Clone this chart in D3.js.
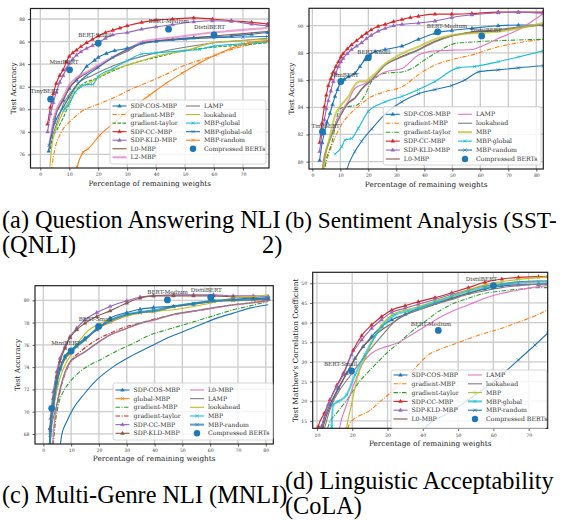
<!DOCTYPE html>
<html>
<head>
<meta charset="utf-8">
<script src="https://cdn.jsdelivr.net/npm/d3@7"></script>
<style>
  body { margin: 0; background: #fff; }
  svg { display: block; }
  .tick text { font-family: "DejaVu Serif", serif; font-size: 4.6px; fill: #333; }
  .tick line { stroke: #333; stroke-width: 0.8; }
  .lab { font-family: "DejaVu Serif", serif; font-size: 7.3px; fill: #222; }
  .leg { font-family: "DejaVu Serif", serif; font-size: 6.2px; fill: #333; }
  .ann { font-family: "DejaVu Serif", serif; font-size: 5.6px; fill: #333; }
  .cap { font-family: "Liberation Serif", "Times New Roman", Times, serif; fill: #000; }
</style>
</head>
<body>
<svg id="fig" width="563" height="521"></svg>
<script>
// ---------- (a) QNLI ----------
var qnliNames = ["SDP-COS-MBP", "gradient-MBP", "gradient-taylor", "SDP-CC-MBP", "SDP-KLD-MBP", "L0-MBP", "L2-MBP",
                 "LAMP", "lookahead", "MBP-global", "MBP-global-old", "MBP-random"];
var qnliXTicks = [0, 10, 20, 30, 40, 50, 60, 70];
var qnliYTicks = [76, 78, 80, 82, 84, 86, 88];
var qnliSdpCos = [[2.9,76.3],[5,79.2],[7.9,80.8],[10,81.85],[12.5,82.6],[16,83.8],[18.8,84.35],[20,84.6],[22.8,84.95],[25.7,85.2],[30,85.4],[35.4,85.9],[40,86.05],[45.7,86.2],[53,86.35],[59.5,86.45],[66,86.5],[73,86.65],[78.5,86.8]];
var qnliGradMbp = [[3.8,74.5],[4.5,75.8],[7.3,78],[10.2,78.9],[14.2,79.8],[20.5,80.5],[26,81.1],[32,81.85],[37.7,82.45],[43.4,83.1],[49,83.8],[55,84.35],[60.6,84.8],[66,85.3],[72,85.7],[78.5,86.0]];
var qnliGradTaylor = [[3.5,76.5],[4,77.3],[6,78.3],[8,79.3],[10,80.5],[12,81.5],[15,82.3],[18,82.6],[20,82.8],[25,83.4],[30,83.9],[35,84.3],[40,84.6],[50,85.2],[60,85.5],[70,85.7],[78.5,85.9]];
var qnliSdpCc = [[2.5,78.7],[3.5,80.2],[4.5,81.4],[5.5,82.3],[6.7,83.0],[7.9,83.5],[9,84.2],[10,84.7],[11.2,85.0],[12.5,85.25],[14,85.55],[16,85.9],[18,86.2],[20,86.5],[22.5,86.8],[25,87.0],[27.5,87.2],[30,87.4],[35,87.7],[40,87.9],[45.7,88.0],[53,88.1],[59.5,88.0],[66,87.85],[73,87.7],[78.5,87.55]];
var qnliSdpKld = [[2.5,78.0],[3.5,79.6],[4.5,80.6],[5.5,81.5],[6.7,82.4],[7.9,83.0],[9,83.6],[10,84.05],[11.2,84.45],[12.5,84.8],[14,85.1],[16,85.4],[18,85.65],[20,85.9],[22.5,86.3],[25,86.6],[30,86.8],[35,87.1],[40,87.3],[45.7,87.5],[53,87.75],[59.5,87.85],[66,87.8],[73,87.55],[78.5,87.4]];
var qnliL0 = [[3,76.5],[5,79.3],[8,80.9],[10,81.9],[12.5,82.6],[16,83.2],[20,83.8],[25,84.55],[30,85.15],[35,85.85],[40,86.05],[50,86.25],[60,86.5],[70,86.7],[78.5,86.9]];
var qnliL2 = [[3,76.7],[5,79.5],[7.9,81.1],[10,82.15],[12.5,82.8],[16,83.3],[20,83.9],[25,84.65],[30,85.25],[35.4,86.0],[40,86.2],[45.7,86.35],[53,86.6],[59.5,86.8],[66,86.95],[73,87.1],[78.5,87.2]];
var qnliLamp = [[4,77.5],[6,79.0],[8,80.5],[10,81.3],[14,82.5],[18,83.0],[22,83.5],[30,84.3],[40,85.0],[50,85.5],[60,85.9],[70,86.1],[78.5,86.3]];
var qnliLookahead = [[3.3,74.9],[4,76.8],[5,77.9],[7,79.3],[10,80.8],[12,81.8],[14,82.1],[16,82.2],[20,82.8],[25,83.5],[30,83.9],[35,84.3],[40,84.7],[50,85.2],[60,85.9],[70,86.1],[78.5,86.2]];
var qnliMbpGlobal = [[8,79.9],[10,80.5],[12,81.5],[14,82.0],[16,82.2],[18,82.2],[20,82.9],[25,83.6],[30,84.3],[35,84.9],[40,85.0],[50,85.2],[55,85.3],[60,85.6],[70,85.8],[78.5,86.0]];
var qnliMbpGlobalOld = [[3,76.8],[5,78.8],[8,80.2],[10,81.1],[13,82.3],[16,83.0],[20,83.7],[25,84.6],[30,85.3],[35,85.8],[40,86.0],[50,86.2],[60,86.35],[70,86.4],[78.5,86.45]];
var qnliMbpRandom = [[12.3,74.5],[12.7,74.9],[14.8,76.2],[16.5,76.5],[20.5,77.7],[26,78.9],[32,80.2],[37.7,81.25],[43.4,82.3],[49,83.2],[55,84.1],[60.6,84.8],[66,85.4],[72,85.9],[78.5,86.1]];
var qnliBertNames = ["TinyBERT", "MiniBERT", "BERT-Small", "BERT-Medium", "DistilBERT"];
var qnliBertX = [3.55, 10.1, 20, 44.3, 60];
var qnliBertY = [80.9, 83.5, 85.85, 87.1, 86.6];

// ---------- (b) SST-2 ----------
var sstNames = ["SDP-COS-MBP", "gradient-MBP", "gradient-taylor", "SDP-CC-MBP", "SDP-KLD-MBP", "L0-MBP",
                "LAMP", "lookahead", "MBP", "MBP-global", "MBP-random"];
var sstXTicks = [0, 10, 20, 30, 40, 50, 60, 70, 80];
var sstYTicks = [80, 82, 84, 86, 88, 90];
var sstSdpCos = [[2.6,80.1],[3.5,81.4],[4.3,82.1],[5.2,82.9],[6.3,83.55],[7.2,84.2],[8.1,84.8],[9,85.3],[9.9,85.75],[11.4,86.05],[12.9,86.25],[15.2,86.5],[17,87.0],[18.8,87.5],[20.6,87.85],[22.4,88.1],[26,88.25],[32,88.5],[37.9,89.0],[43.8,89.45],[49.8,89.65],[57,89.8],[66.4,90.0],[73.6,90.05],[82.5,90.05]];
var sstGradMbp = [[3.9,79.0],[4.3,79.4],[6.8,81.1],[9.3,82.3],[12.9,83.4],[16.4,84.05],[20,84.65],[26,85.15],[32,85.5],[37.9,86.4],[43.8,87.1],[49.8,87.5],[57,87.85],[66.4,88.45],[73.6,88.75],[82.5,89.0]];
var sstGradTaylor = [[4.2,79.0],[4.5,79.6],[6.9,81.35],[9.9,83.9],[12.9,84.05],[15.8,84.15],[18.8,84.9],[21.2,85.9],[26,86.5],[32,86.6],[35.5,86.85],[40.2,87.5],[45,88.1],[51,88.7],[57,88.8],[66.4,88.9],[73.6,88.95],[82.5,89.0]];
var sstSdpCc = [[2.6,81.4],[3.4,82.8],[4.3,84.05],[5,84.9],[5.7,85.6],[6.6,86.1],[7.5,86.6],[8.4,87.0],[9.3,87.35],[10.2,87.7],[11,87.95],[12.5,88.3],[14,88.6],[15.8,88.9],[17.6,89.2],[19.3,89.45],[21,89.7],[23.5,89.95],[26,90.1],[29,90.3],[32,90.45],[35,90.6],[37.9,90.7],[43.8,90.85],[49.8,90.85],[57,90.9],[66.4,91.0],[73.6,91.0],[82.5,91.0]];
var sstSdpKld = [[2.6,80.75],[3.4,82.0],[4.3,83.1],[5,83.9],[5.7,84.5],[6.6,85.2],[7.5,85.9],[8.4,86.5],[9.3,87.0],[10.2,87.35],[11,87.6],[12.5,87.95],[14,88.25],[15.8,88.5],[17.6,88.75],[19.3,89.05],[21,89.3],[23.5,89.6],[26,89.8],[29,90.0],[32,90.1],[37.9,90.2],[43.8,90.35],[49.8,90.6],[57,90.8],[66.4,90.95],[73.6,91.0],[82.5,90.9]];
var sstL0 = [[3.6,79.0],[3.9,79.6],[6.3,81.7],[9.3,83.1],[12.9,84.35],[15.2,84.7],[17.6,85.35],[21.2,86.05],[26,87.1],[32,87.75],[37.9,88.25],[43.8,88.85],[49.8,89.25],[57,89.5],[66.4,89.65],[73.6,89.85],[82.5,90.05]];
var sstLamp = [[3.6,79.3],[3.9,80.1],[6.3,81.6],[9.3,83.3],[12.9,84.5],[15.2,85.4],[18.8,85.75],[21.2,86.05],[26,86.6],[32,86.85],[37.9,87.85],[43.8,88.15],[49.8,88.2],[57,88.25],[61.7,88.6],[66.4,89.05],[73.6,89.7],[82.5,90.9]];
var sstLookahead = [[3.6,79.0],[3.9,79.75],[6.3,81.6],[9.3,83.06],[12.9,84.3],[15.2,84.65],[17.6,85.3],[21.2,86.0],[26,87.1],[32,87.7],[37.9,88.2],[43.8,88.8],[49.8,89.25],[57,89.55],[66.4,89.7],[73.6,89.9],[82.5,90.05]];
var sstMbp = [[3.7,79.0],[3.9,79.4],[6.3,81.85],[8.1,83.4],[9.9,84.05],[12.9,84.8],[15.2,85.65],[17,85.9],[18.8,85.9],[21.2,86.25],[26,87.2],[32,87.95],[37.9,88.45],[43.8,89.0],[49.8,89.3],[57,89.45],[66.4,89.55],[73.6,89.8],[82.5,90.2]];
var sstMbpGlobal = [[8.1,80.55],[10.5,81.1],[11.7,81.6],[14,81.7],[16.4,82.45],[20,83.7],[26,84.4],[32,84.8],[37.9,85.3],[43.8,85.9],[52,86.9],[58,87.0],[66.4,87.35],[73.6,87.7],[82.5,88.15]];
var sstMbpRandom = [[11.8,79.0],[12.3,79.4],[15.2,80.75],[17.6,81.5],[21.2,82.4],[26,83.5],[32,84.4],[37.9,85.0],[43.8,85.3],[49.8,85.6],[54.5,86.0],[59.3,86.6],[66.4,86.75],[73.6,86.9],[82.5,87.05]];
var sstBertNames = ["TinyBERT", "MiniBERT", "BERT-Small", "BERT-Medium", "DistilBERT"];
var sstBertX = [3.6, 10.2, 20, 44.8, 60.5];
var sstBertY = [82.2, 85.9, 87.65, 89.55, 89.25];

// ---------- (c) MNLI ----------
var mnliNames = ["SDP-COS-MBP", "global-MBP", "gradient-MBP", "gradient-taylor", "SDP-CC-MBP", "SDP-KLD-MBP",
                 "L0-MBP", "LAMP", "lookahead", "MBP", "MBP-random"];
var mnliXTicks = [0, 10, 20, 30, 40, 50, 60, 70, 80];
var mnliYTicks = [68, 70, 72, 74, 76, 78, 80];
var mnliSdpCos = [[2.4,67.0],[2.6,68.35],[3.6,70.3],[4.8,72.7],[6,73.9],[7.8,75.0],[9.6,75.45],[12,76.0],[15,76.6],[19.2,77.35],[24,78.4],[30,78.9],[34.8,79.2],[39.6,79.35],[46.8,79.45],[54,79.65],[61.2,79.9],[68.3,80.05],[75.5,80.2],[80.9,80.2]];
var mnliGlobalMbp = [[2.5,67.0],[2.6,67.9],[4.8,72.4],[7.8,74.7],[9.6,75.2],[12,75.8],[15,76.4],[19.2,77.4],[24,78.0],[30,78.6],[34.8,78.85],[39.6,78.95],[46.8,79.4],[54,79.7],[61.2,79.9],[68.3,79.95],[75.5,80.0],[80.9,80.1]];
var mnliGradMbp = [[3.6,67.0],[4.0,68.2],[5.4,70.6],[7.2,71.8],[9.6,72.7],[13.2,73.6],[16.8,74.2],[20.4,74.65],[26.4,75.45],[32.4,76.15],[38.4,76.9],[44.4,77.35],[50.4,77.8],[56.4,78.25],[62.4,78.7],[68.3,79.15],[74.3,79.5],[80.9,79.9]];
var mnliGradTaylor = [[3.3,67.0],[3.6,67.9],[6,71.8],[8.4,73.75],[10.2,74.65],[12.6,75.25],[15.6,75.85],[19.2,76.45],[24,77.05],[30,77.65],[34.8,77.95],[39.6,78.3],[46.8,78.7],[54,79.0],[61.2,79.3],[68.3,79.6],[75.5,79.8],[80.9,80.0]];
var mnliSdpCc = [[2.2,67.0],[2.4,68.5],[2.6,69.4],[3.6,71.8],[4.8,73.6],[6,74.8],[7.8,75.85],[9.6,76.75],[12,77.5],[15,78.25],[19.2,78.9],[24,79.45],[30,79.95],[34.8,80.3],[39.6,80.4],[46.8,80.5],[54,80.5],[61.2,80.5],[68.3,80.4],[75.5,80.4],[80.9,80.35]];
var mnliSdpKld = [[2.2,67.0],[2.4,68.5],[3.6,71.2],[4.8,73.15],[6,74.5],[7.8,75.7],[9.6,76.65],[12,77.35],[15,77.95],[19.2,78.55],[24,79.05],[30,79.75],[34.8,80.2],[39.6,80.4],[46.8,80.4],[54,80.4],[61.2,80.4],[68.3,80.3],[75.5,80.2],[80.9,80.1]];
var mnliL0 = [[3.4,67.0],[3.6,67.9],[4.8,70.5],[7.8,73.5],[9.6,74.4],[12,74.9],[15,75.35],[19.2,76.1],[24,76.85],[30,77.45],[34.8,77.9],[39.6,78.2],[46.8,78.7],[54,79.0],[61.2,79.3],[68.3,79.55],[75.5,79.75],[80.9,79.95]];
var mnliLamp = [[2.4,67.0],[2.6,67.9],[4.8,70.6],[7.8,73.6],[9.6,74.5],[12,74.95],[15,75.4],[19.2,76.15],[24,76.9],[30,77.5],[34.8,77.95],[39.6,78.25],[46.8,78.75],[54,79.05],[61.2,79.35],[68.3,79.6],[75.5,79.8],[80.9,80.0]];
var mnliLookahead = [[2.5,67.0],[2.6,67.9],[4.8,71.8],[7.8,74.2],[9.6,74.95],[12,76.0],[15,77.0],[19.2,77.8],[24,78.25],[30,78.6],[34.8,78.9],[39.6,79.0],[46.8,79.15],[54,79.45],[61.2,79.8],[68.3,80.2],[75.5,80.35],[80.9,80.5]];
var mnliMbp = [[2.3,67.0],[2.4,67.9],[4.8,72.55],[7.8,74.8],[9.6,75.3],[12,75.85],[15,76.45],[19.2,77.5],[24,78.1],[30,78.7],[34.8,78.9],[39.6,79.0],[46.8,79.45],[54,79.75],[61.2,79.95],[68.3,80.0],[75.5,80.05],[80.9,80.2]];
var mnliMbpRandom = [[2.4,67.0],[2.6,68.3],[3.6,70.5],[4.8,72.6],[6,73.8],[7.8,74.9],[9.6,75.35],[12,75.9],[15,76.5],[19.2,77.4],[24,78.2],[30,78.75],[34.8,78.95],[39.6,79.1],[46.8,79.45],[54,79.7],[61.2,79.95],[68.3,80.05],[75.5,80.1],[80.9,80.15]];
// unlabelled baseline curve at the bottom of (c)
var mnliBaseline = [[6.0,66.8],[6.6,67.9],[8.4,69.1],[10.8,70.3],[14.4,71.5],[19.2,72.85],[25.2,74.05],[32.4,75.1],[38.4,75.85],[44.4,76.6],[50.4,77.2],[56.4,77.8],[62.4,78.4],[68.3,78.85],[74.3,79.3],[80.9,79.6]];
var mnliBertNames = ["", "MiniBERT", "BERT-Small", "BERT-Medium", "DistilBERT"];
var mnliBertX = [3.0, 10, 19.9, 44.6, 60.2];
var mnliBertY = [70.3, 75.45, 77.65, 80.03, 80.25];

// ---------- (d) CoLA ----------
var colaNames = ["SDP-COS-MBP", "gradient-MBP", "gradient-taylor", "SDP-CC-MBP", "SDP-KLD-MBP", "L0-MBP",
                 "LAMP", "lookahead", "MBP", "MBP-global", "MBP-random"];
var colaXTicks = [10, 20, 30, 40, 50, 60, 70];
var colaYTicks = [15, 20, 25, 30, 35, 40, 45, 50];
var colaSdpCos = [[11,11],[11.5,13.6],[13.7,19.1],[16,23.3],[18.4,27.1],[20.8,30.9],[23.1,33.9],[25.5,36.45],[28.3,39.0],[31.2,40.7],[35,42.1],[38.7,43.65],[43.5,44.9],[48.2,46.2],[52.9,47.45],[57.6,48.55],[62.4,49.3],[67.1,49.6],[72.8,49.75],[75.4,49.9]];
var colaGradMbp = [[18.8,13],[19.2,14.2],[21.7,16.1],[24.6,17.4],[27.4,19.5],[31.2,22.45],[35,25.85],[38.7,29.25],[41.6,31.8],[44.4,33.05],[48.2,34.3],[52.9,35.85],[57.6,37.3],[62.4,38.55],[67.1,40.1],[72.8,42.1],[75.4,43.3]];
var colaGradTaylor = [[12.5,11],[13.2,13.6],[16,17.4],[18.9,20.8],[21.7,24.6],[24.6,27.5],[27.4,30.1],[30.2,32.6],[33.1,34.75],[36.8,37.7],[40.6,40.25],[44.4,42.8],[48.2,44.65],[52.9,46.2],[57.6,47.45],[62.4,48.05],[67.1,48.5],[72.8,48.9],[75.4,48.9]];
var colaSdpCc = [[9.8,11],[10.4,13.6],[12.1,16.95],[13.7,20.35],[15.6,24.0],[17.5,27.1],[20.3,33.0],[22.7,36.7],[25.5,39.4],[28.3,41.5],[31.2,43.2],[35,44.3],[38.7,45.3],[43.5,46.35],[48.2,47.6],[52.9,48.9],[57.6,50.25],[62.4,51.1],[67.1,51.5],[72.8,51.7],[75.4,51.7]];
var colaSdpKld = [[10.7,11],[11.3,13.6],[13.2,19.1],[15.6,23.7],[17.5,26.7],[19.8,31.8],[22.7,35.6],[25.5,38.55],[28.3,40.7],[31.2,42.6],[35,43.65],[38.7,44.65],[43.5,45.9],[48.2,47.2],[52.9,48.3],[57.6,49.3],[62.4,49.75],[67.1,49.75],[72.8,49.75],[75.4,50.0]];
var colaL0 = [[11.2,11],[11.8,13.6],[14.2,19.5],[17,24.6],[19.8,29.25],[22.7,33.5],[25.5,36.0],[28.3,38.1],[31.2,39.8],[35,41.95],[38.7,43.2],[43.5,44.65],[48.2,46.2],[52.9,47.45],[57.6,48.7],[62.4,49.75],[67.1,50.4],[72.8,50.6],[75.4,50.6]];
var colaLamp = [[16,11],[16.5,13.6],[18.4,19.1],[20.8,25.0],[22.7,29.25],[25.5,32.2],[28.3,33.5],[31.2,34.3],[34,35.35],[36.8,36.9],[40.6,39.0],[44.4,41.1],[48.2,42.8],[52.9,44.5],[57.6,46.2],[62.4,47.45],[67.1,48.3],[72.8,49.15],[75.4,49.4]];
var colaLookahead = [[11.6,11],[12.3,13.6],[14.2,19.1],[16.5,22.9],[18.9,25.85],[21.7,29.25],[24.6,32.6],[27.4,35.6],[30.2,38.55],[33.1,41.1],[36.8,42.55],[40.6,43.8],[44.4,44.9],[48.2,45.9],[52.9,47.2],[57.6,48.1],[62.4,48.9],[67.1,49.4],[72.8,49.75],[75.4,49.75]];
var colaMbp = [[18.1,11],[18.4,13.1],[19.8,19.1],[21.7,26.7],[23.6,30.9],[25.5,34.75],[28.3,39.4],[31.2,41.95],[35,43.2],[38.7,44.05],[43.5,45.5],[48.2,46.85],[52.9,48.3],[57.6,49.6],[62.4,50.4],[67.1,51.0],[72.8,51.45],[75.4,51.7]];
var colaMbpGlobal = [[14.1,11],[14.2,13.6],[14.6,19.1],[16,19.9],[18.4,21.6],[20.8,26.7],[23.6,31.8],[26.4,36.45],[29.3,39.8],[32.1,41.95],[35.9,42.95],[38.7,43.65],[43.5,45.2],[48.2,46.6],[52.9,47.9],[57.6,48.9],[62.4,49.75],[67.1,50.25],[72.8,50.4],[75.4,50.4]];
var colaMbpRandom = [[39,11],[40.6,13.1],[48.2,17.4],[52.9,20.35],[57.6,23.3],[62.4,26.7],[67.1,30.5],[71.8,34.3],[75.4,37.3]];
var colaBertNames = ["BERT-Small", "BERT-Medium", "DistilBERT"];
var colaBertX = [19.8, 44.4, 60];
var colaBertY = [27.7, 38.0, 49.4];

// layout of each subplot (pixels)
var panels = [
  { names: qnliNames, xTicks: qnliXTicks, yTicks: qnliYTicks, thick: ["L2-MBP"],
    series: [qnliSdpCos, qnliGradMbp, qnliGradTaylor, qnliSdpCc, qnliSdpKld, qnliL0, qnliL2, qnliLamp, qnliLookahead, qnliMbpGlobal, qnliMbpGlobalOld, qnliMbpRandom],
    extra: [], bert: [qnliBertNames, qnliBertX, qnliBertY],
    box: [30.5, 8.5, 269, 168], xDom: [-3.4, 79], yDom: [74.8, 88.93],
    yLabel: "Test Accuracy", yLabX: 13.3, xLabY: 185.5, taylorDash: "3.5,1.5",
    leg: { x: 110, y: 100, w: 156, h: 64, c2: 186, r0: 106, dr: 8.55 }, ann: [-20, -6] },
  { names: sstNames, xTicks: sstXTicks, yTicks: sstYTicks, thick: ["MBP"],
    series: [sstSdpCos, sstGradMbp, sstGradTaylor, sstSdpCc, sstSdpKld, sstL0, sstLamp, sstLookahead, sstMbp, sstMbpGlobal, sstMbpRandom],
    extra: [], bert: [sstBertNames, sstBertX, sstBertY],
    box: [309, 8.3, 543.3, 169], xDom: [-1.2, 82.5], yDom: [79.46, 91.28],
    yLabel: "Test Accuracy", yLabX: 291.7, xLabY: 186.5, taylorDash: null,
    leg: { x: 383.3, y: 106.7, w: 157.7, h: 58.3, c2: 458, r0: 114.3, dr: 8.94 }, ann: [-11, -4] },
  { names: mnliNames, xTicks: mnliXTicks, yTicks: mnliYTicks, thick: ["MBP-random"],
    series: [mnliSdpCos, mnliGlobalMbp, mnliGradMbp, mnliGradTaylor, mnliSdpCc, mnliSdpKld, mnliL0, mnliLamp, mnliLookahead, mnliMbp, mnliMbpRandom],
    extra: [mnliBaseline], bert: [mnliBertNames, mnliBertX, mnliBertY],
    box: [35, 285.7, 273.3, 444], xDom: [-3, 82.7], yDom: [67.1, 81.31],
    yLabel: "Test Accuracy", yLabX: 17, xLabY: 460.5, taylorDash: null,
    leg: { x: 113, y: 383, w: 160, h: 57, c2: 190, r0: 390, dr: 8.66 }, ann: [-20, -5.7] },
  { names: colaNames, xTicks: colaXTicks, yTicks: colaYTicks, thick: ["MBP-global"],
    series: [colaSdpCos, colaGradMbp, colaGradTaylor, colaSdpCc, colaSdpKld, colaL0, colaLamp, colaLookahead, colaMbp, colaMbpGlobal, colaMbpRandom],
    extra: [], bert: [colaBertNames, colaBertX, colaBertY],
    box: [312.7, 272.3, 547.7, 428.3], xDom: [8.8, 75.4], yDom: [13.1, 52.8],
    yLabel: "Test Matthew's Correlation Coefficient", yLabX: 295, xLabY: 445.5, taylorDash: null,
    leg: { x: 391, y: 370, w: 155.7, h: 58.3, c2: 468, r0: 375, dr: 8.8 }, ann: [-27.5, -4.7] }
];

var tab10 = d3.schemeCategory10;
var triPath = "M0,-2.1L1.9,1.2L-1.9,1.2Z";
var xPath = "M-1.6,-1.6L1.6,1.6M-1.6,1.6L1.6,-1.6";

function markerFor(name, pi) {
  if (/^SDP/.test(name)) return "tri";
  if (/global|random/.test(name)) return "x";
  if (name === "MBP" && pi >= 2) return "x";
  return null;
}
function dashFor(name, p) {
  if (name === "gradient-MBP") return "4.5,1.5,1,1.5";
  if (name === "gradient-taylor") return p.taylorDash || "4.5,1.5,1,1.5";
  return null;
}
function widthFor(name, p) { return p.thick.indexOf(name) >= 0 ? 2.1 : 1.1; }
function alphaFor(name, p) { return p.thick.indexOf(name) >= 0 ? 0.7 : 1; }

var svg = d3.select("#fig");

panels.forEach(function(p, pi) {
  var b = p.box;
  var x = d3.scaleLinear().domain(p.xDom).range([b[0], b[2]]);
  var y = d3.scaleLinear().domain(p.yDom).range([b[3], b[1]]);
  var g = svg.append("g");

  // grid
  g.selectAll(".gx").data(p.xTicks).enter().append("line")
    .attr("x1", function(d) { return x(d); }).attr("x2", function(d) { return x(d); })
    .attr("y1", b[1]).attr("y2", b[3]).attr("stroke", "#cccccc").attr("stroke-width", 1.3);
  g.selectAll(".gy").data(p.yTicks).enter().append("line")
    .attr("y1", function(d) { return y(d); }).attr("y2", function(d) { return y(d); })
    .attr("x1", b[0]).attr("x2", b[2]).attr("stroke", "#cccccc").attr("stroke-width", 1.3);

  // axes
  var ax = g.append("g").attr("transform", "translate(0," + b[3] + ")")
    .call(d3.axisBottom(x).tickValues(p.xTicks).tickSize(2.5).tickPadding(2.5));
  var ay = g.append("g").attr("transform", "translate(" + b[0] + ",0)")
    .call(d3.axisLeft(y).tickValues(p.yTicks).tickSize(2.5).tickPadding(3));
  ax.select(".domain").remove();
  ay.select(".domain").remove();
  ax.attr("font-family", null).attr("font-size", null);
  ay.attr("font-family", null).attr("font-size", null);

  var clipId = "clip" + pi;
  svg.append("clipPath").attr("id", clipId).append("rect")
    .attr("x", b[0]).attr("y", b[1]).attr("width", b[2] - b[0]).attr("height", b[3] - b[1]);
  var plot = g.append("g").attr("clip-path", "url(#" + clipId + ")");

  var line = d3.line()
    .x(function(d) { return x(d[0]); })
    .y(function(d) { return y(d[1]); })
    .curve(d3.curveMonotoneX);

  p.extra.forEach(function(data) {
    plot.append("path").datum(data).attr("d", line).attr("fill", "none")
      .attr("stroke", tab10[0]).attr("stroke-width", 1.1);
  });

  p.series.forEach(function(data, si) {
    var name = p.names[si], col = tab10[si % 10];
    plot.append("path").datum(data)
      .attr("d", line).attr("fill", "none")
      .attr("stroke", col).attr("stroke-width", widthFor(name, p))
      .attr("stroke-opacity", alphaFor(name, p))
      .attr("stroke-dasharray", dashFor(name, p));
    var mk = markerFor(name, pi);
    if (mk) {
      plot.selectAll(null).data(data).enter().append("path")
        .attr("transform", function(d) { return "translate(" + x(d[0]) + "," + y(d[1]) + ")"; })
        .attr("d", mk === "tri" ? triPath : xPath)
        .attr("fill", mk === "tri" ? col : "none")
        .attr("stroke", col).attr("stroke-width", mk === "tri" ? 0.4 : 0.7);
    }
  });

  // compressed BERT models
  var bn = p.bert[0], bx = p.bert[1], by = p.bert[2];
  var pts = bn.map(function(n, i) { return { name: n, x: bx[i], y: by[i] }; });
  plot.selectAll(null).data(pts).enter().append("circle")
    .attr("cx", function(d) { return x(d.x); }).attr("cy", function(d) { return y(d.y); })
    .attr("r", 3.4).attr("fill", tab10[0]);
  g.selectAll(null).data(pts.filter(function(d) { return d.name; })).enter().append("text")
    .attr("class", "ann")
    .attr("x", function(d) { return x(d.x) + p.ann[0]; })
    .attr("y", function(d) { return y(d.y) + p.ann[1]; })
    .text(function(d) { return d.name; });

  // frame
  g.append("rect").attr("x", b[0]).attr("y", b[1])
    .attr("width", b[2] - b[0]).attr("height", b[3] - b[1])
    .attr("fill", "none").attr("stroke", "#222").attr("stroke-width", 1.2);

  // axis labels
  g.append("text").attr("class", "lab")
    .attr("x", (b[0] + b[2]) / 2).attr("y", p.xLabY)
    .attr("text-anchor", "middle").text("Percentage of remaining weights");
  g.append("text").attr("class", "lab")
    .attr("transform", "translate(" + p.yLabX + "," + ((b[1] + b[3]) / 2) + ") rotate(-90)")
    .attr("text-anchor", "middle").attr("dy", "0.35em").text(p.yLabel);

  // legend
  var L = p.leg;
  var lg = g.append("g");
  lg.append("rect").attr("x", L.x).attr("y", L.y).attr("width", L.w).attr("height", L.h)
    .attr("rx", 2).attr("fill", "#fff").attr("fill-opacity", 0.8)
    .attr("stroke", "#cccccc").attr("stroke-width", 0.8);
  var entries = p.names.concat(["Compressed BERTs"]);
  var perCol = Math.ceil(entries.length / 2);
  entries.forEach(function(name, i) {
    var c = i < perCol ? 0 : 1, r = c ? i - perCol : i;
    var hx = c ? L.c2 : L.x + 2.5, hy = L.r0 + r * L.dr;
    if (name === "Compressed BERTs") {
      lg.append("circle").attr("cx", hx + 7).attr("cy", hy).attr("r", 3.2).attr("fill", tab10[0]);
    } else {
      var col = tab10[i % 10];
      lg.append("line").attr("x1", hx).attr("x2", hx + 14).attr("y1", hy).attr("y2", hy)
        .attr("stroke", col).attr("stroke-width", widthFor(name, p))
        .attr("stroke-opacity", alphaFor(name, p))
        .attr("stroke-dasharray", dashFor(name, p));
      var mk = markerFor(name, pi);
      if (mk) {
        lg.append("path").attr("transform", "translate(" + (hx + 7) + "," + hy + ")")
          .attr("d", mk === "tri" ? triPath : xPath)
          .attr("fill", mk === "tri" ? col : "none")
          .attr("stroke", col).attr("stroke-width", mk === "tri" ? 0.4 : 0.7);
      }
    }
    lg.append("text").attr("class", "leg").attr("x", hx + 18).attr("y", hy)
      .attr("dy", "0.35em").text(name);
  });
});

// sub-captions: [text, x, baseline, font size]
var caps = [
  ["(a) Question Answering NLI", 2, 228, 24.3], ["(QNLI)", 2, 253, 24.3],
  ["(b) Sentiment Analysis (SST-", 285, 228, 23.2], ["2)", 262, 253, 24.3],
  ["(c) Multi-Genre NLI (MNLI)", 2, 503, 24.3],
  ["(d) Linguistic Acceptability", 285, 489, 24.3], ["(CoLA)", 285, 514, 24.3]
];
svg.selectAll(".cap").data(caps).enter().append("text")
  .attr("class", "cap")
  .attr("x", function(d) { return d[1]; })
  .attr("y", function(d) { return d[2]; })
  .style("font-size", function(d) { return d[3] + "px"; })
  .text(function(d) { return d[0]; });
</script>
</body>
</html>
